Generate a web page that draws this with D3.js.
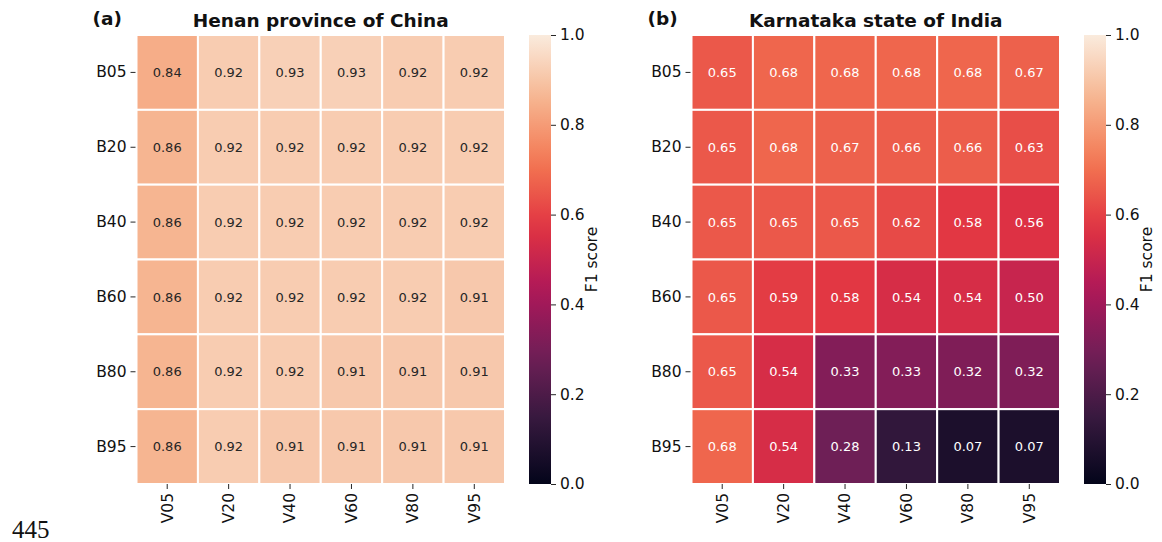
<!DOCTYPE html>
<html>
<head>
<meta charset="utf-8">
<script src="https://cdn.jsdelivr.net/npm/d3@7"></script>
<style>
  body { margin: 0; background: #fff; }
  svg { display: block; font-family: "DejaVu Sans", sans-serif; }
  .domain { display: none; }
</style>
</head>
<body>
<svg id="chart" width="1162" height="542"></svg>
<script>
// row / column labels
const rows = ["B05", "B20", "B40", "B60", "B80", "B95"];
const cols = ["V05", "V20", "V40", "V60", "V80", "V95"];

// F1 scores, one row per B level
const henan = [
  [0.84, 0.92, 0.93, 0.93, 0.92, 0.92],
  [0.86, 0.92, 0.92, 0.92, 0.92, 0.92],
  [0.86, 0.92, 0.92, 0.92, 0.92, 0.92],
  [0.86, 0.92, 0.92, 0.92, 0.92, 0.91],
  [0.86, 0.92, 0.92, 0.91, 0.91, 0.91],
  [0.86, 0.92, 0.91, 0.91, 0.91, 0.91]
];
const karnataka = [
  [0.65, 0.68, 0.68, 0.68, 0.68, 0.67],
  [0.65, 0.68, 0.67, 0.66, 0.66, 0.63],
  [0.65, 0.65, 0.65, 0.62, 0.58, 0.56],
  [0.65, 0.59, 0.58, 0.54, 0.54, 0.50],
  [0.65, 0.54, 0.33, 0.33, 0.32, 0.32],
  [0.68, 0.54, 0.28, 0.13, 0.07, 0.07]
];

const cbTicks = [0, 0.2, 0.4, 0.6, 0.8, 1.0];

// seaborn "rocket" approximated from sampled stops
const rocketStops = ["#03051a", "#35193e", "#701f57", "#ad1759", "#e13342", "#f37651", "#f6b48f", "#faebdd"];
const rocket = d3.scaleLinear()
    .domain(rocketStops.map((d, i) => i === 0 ? 0 : i === rocketStops.length - 1 ? 1 : i / 7))
    .range(rocketStops)
    .interpolate(d3.interpolateRgb)
    .clamp(true);

function luminance(c) {
  const rgb = d3.rgb(c);
  const f = v => { v /= 255; return v <= 0.03928 ? v / 12.92 : Math.pow((v + 0.055) / 1.055, 2.4); };
  return 0.2126 * f(rgb.r) + 0.7152 * f(rgb.g) + 0.0722 * f(rgb.b);
}

const svg = d3.select("#chart");
const mTop = 35, hmH = 449, hmW = 368.5;
const tickColor = "#262626";

function panel({ x0, data, title, tag, id }) {
  const g = svg.append("g").attr("id", id);

  const x = d3.scaleBand().domain(cols).range([x0, x0 + hmW]);
  const y = d3.scaleBand().domain(rows).range([mTop, mTop + hmH]);

  const cells = [];
  data.forEach((r, i) => r.forEach((v, j) => cells.push({ row: rows[i], col: cols[j], v })));

  g.append("g").selectAll("rect")
    .data(cells)
    .join("rect")
      .attr("x", d => x(d.col))
      .attr("y", d => y(d.row))
      .attr("width", x.bandwidth())
      .attr("height", y.bandwidth())
      .attr("fill", d => rocket(d.v))
      .attr("stroke", "#fff")
      .attr("stroke-width", 2);

  g.append("g").selectAll("text")
    .data(cells)
    .join("text")
      .attr("x", d => x(d.col) + x.bandwidth() / 2)
      .attr("y", d => y(d.row) + y.bandwidth() / 2)
      .attr("dy", "0.36em")
      .attr("text-anchor", "middle")
      .attr("font-size", 13)
      .attr("fill", d => luminance(rocket(d.v)) > 0.408 ? "#262626" : "#fff")
      .text(d => d.v.toFixed(2));

  // y axis
  g.append("g")
    .attr("transform", `translate(${x0 - 1},0)`)
    .call(d3.axisLeft(y).tickSize(5).tickPadding(4))
    .call(a => a.selectAll(".tick line").attr("stroke", tickColor))
    .call(a => a.selectAll(".tick text").attr("font-size", 15.5).attr("fill", "#111")
      .attr("font-family", "DejaVu Sans"));

  // x axis, labels rotated
  g.append("g")
    .attr("transform", `translate(0,${mTop + hmH})`)
    .call(d3.axisBottom(x).tickSize(5).tickPadding(4))
    .call(a => a.selectAll(".tick line").attr("stroke", tickColor))
    .call(a => a.selectAll(".tick text")
      .attr("font-size", 15.5).attr("fill", "#111").attr("font-family", "DejaVu Sans")
      .attr("transform", "rotate(-90)")
      .attr("text-anchor", "end")
      .attr("x", -9).attr("y", 0).attr("dy", "0.35em"));

  // titles
  g.append("text")
    .attr("x", x0 + hmW / 2).attr("y", 27)
    .attr("text-anchor", "middle")
    .attr("font-weight", "bold").attr("font-size", 18.5).attr("fill", "#111")
    .text(title);
  g.append("text")
    .attr("x", x0 - 44).attr("y", 25)
    .attr("font-weight", "bold").attr("font-size", 18.5).attr("fill", "#111")
    .text(tag);

  // colorbar
  const cbX = x0 + hmW + 24, cbW = 22;
  const cy = d3.scaleLinear().domain([0, 1]).range([mTop + hmH, mTop]);
  const gradId = id + "-grad";
  const grad = svg.append("defs").append("linearGradient")
    .attr("id", gradId).attr("x1", 0).attr("y1", 1).attr("x2", 0).attr("y2", 0);
  grad.selectAll("stop")
    .data(d3.range(0, 1.0001, 0.05))
    .join("stop")
      .attr("offset", d => d)
      .attr("stop-color", d => rocket(d));
  g.append("rect")
    .attr("x", cbX).attr("y", mTop)
    .attr("width", cbW).attr("height", hmH)
    .attr("fill", `url(#${gradId})`);
  g.append("g")
    .attr("transform", `translate(${cbX + cbW},0)`)
    .call(d3.axisRight(cy).tickValues(cbTicks).tickFormat(d3.format(".1f")).tickSize(5).tickPadding(4))
    .call(a => a.selectAll(".tick line").attr("stroke", tickColor))
    .call(a => a.selectAll(".tick text").attr("font-size", 15.5).attr("fill", "#111")
      .attr("font-family", "DejaVu Sans"));
  g.append("text")
    .attr("transform", `translate(${cbX + cbW + 46},${mTop + hmH / 2}) rotate(-90)`)
    .attr("text-anchor", "middle")
    .attr("font-size", 15.5).attr("fill", "#111")
    .text("F1 score");
}

panel({ x0: 136.5, data: henan, title: "Henan province of China", tag: "(a)", id: "pa" });
panel({ x0: 691.5, data: karnataka, title: "Karnataka state of India", tag: "(b)", id: "pb" });

// stray page number from the source document
svg.append("text")
  .attr("x", 12).attr("y", 538)
  .attr("font-family", "Liberation Serif, serif")
  .attr("font-size", 25).attr("fill", "#111")
  .text("445");
</script>
</body>
</html>
